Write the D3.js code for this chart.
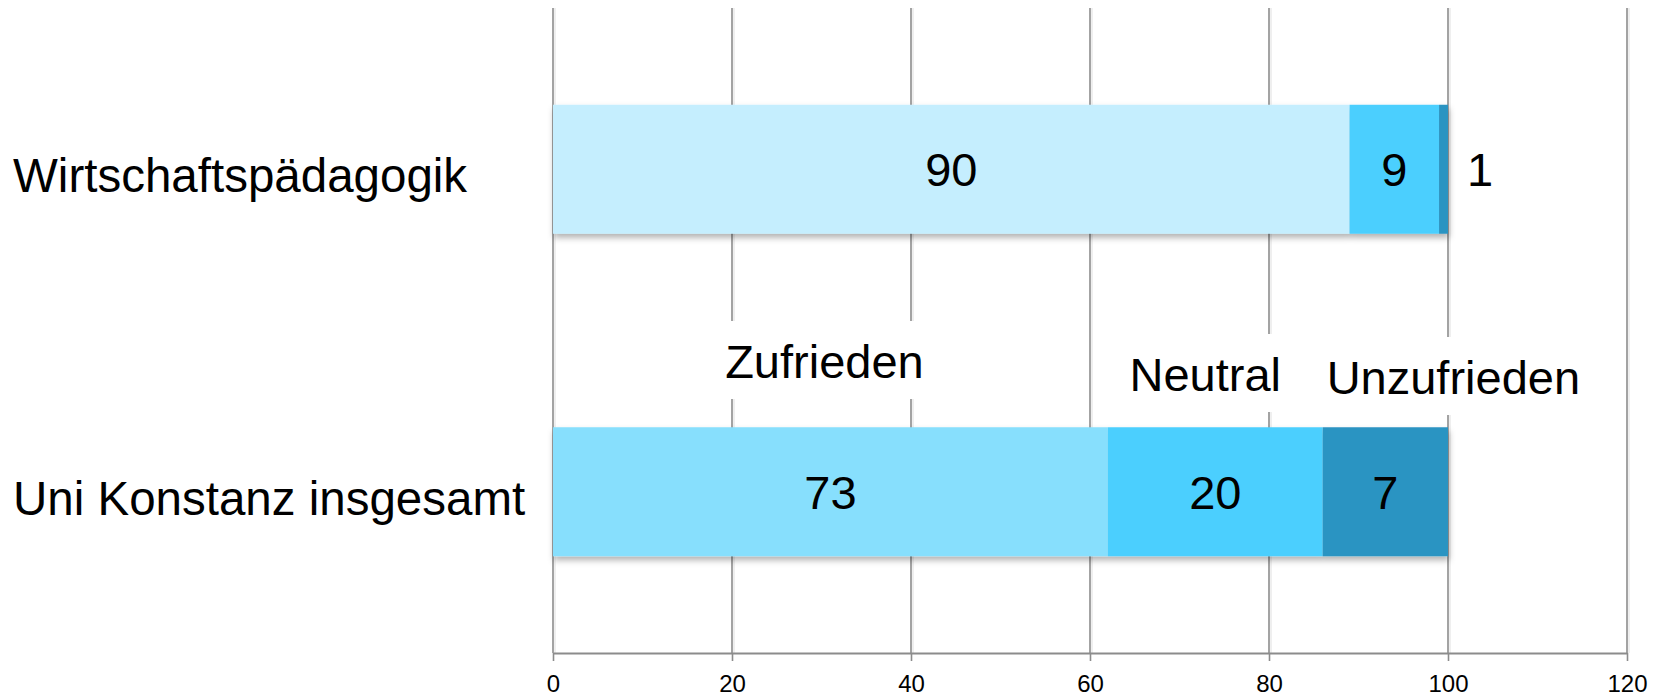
<!DOCTYPE html>
<html>
<head>
<meta charset="utf-8">
<script src="https://cdn.jsdelivr.net/npm/d3@7"></script>
<style>
  body { margin: 0; background: #fff; }
  text { font-family: "Liberation Sans", Arial, sans-serif; fill: #000; }
</style>
</head>
<body>
<script>
// categories and series
var categories = ["Wirtschaftspädagogik", "Uni Konstanz insgesamt"];
var seriesNames = ["Zufrieden", "Neutral", "Unzufrieden"];

// bar lengths as drawn in the picture
var barZufrieden = [89, 62];
var barNeutral = [10, 24];
var barUnzufrieden = [1, 14];

// numbers written on the bars
var labelZufrieden = [90, 73];
var labelNeutral = [9, 20];
var labelUnzufrieden = [1, 7];

var xTicks = [0, 20, 40, 60, 80, 100, 120];

var colorsTop = ["#c5eefe", "#4ccffe", "#2b94c2"];
var colorsBottom = ["#87dffd", "#4ccffe", "#2b94c2"];

var width = 1661,
	height = 696;

var svg = d3.select("body")
	.append("svg")
	.attr("width", width)
	.attr("height", height);

var defs = svg.append("defs");
var shadow = defs.append("filter")
	.attr("id", "shadow")
	.attr("x", "-5%").attr("y", "-20%")
	.attr("width", "110%").attr("height", "150%");
shadow.append("feDropShadow")
	.attr("dx", 1)
	.attr("dy", 4)
	.attr("stdDeviation", 3)
	.attr("flood-color", "#000")
	.attr("flood-opacity", 0.3);

var x = d3.scaleLinear()
	.domain([0, 120])
	.range([553, 1627]);

var y = d3.scaleBand()
	.domain(categories)
	.range([8, 653])
	.paddingInner(0.6)
	.paddingOuter(0.3);

var axisY = 653;

//grid lines
var grid = svg.append("g").attr("class", "grid");
grid.selectAll(".shade")
	.data(xTicks)
	.enter()
	.append("line")
	.attr("x1", function(d){ return x(d) + 2; })
	.attr("x2", function(d){ return x(d) + 2; })
	.attr("y1", 8)
	.attr("y2", axisY)
	.attr("stroke", "#efefef")
	.attr("stroke-width", 2);
grid.selectAll(".gl")
	.data(xTicks)
	.enter()
	.append("line")
	.attr("x1", function(d){ return x(d); })
	.attr("x2", function(d){ return x(d); })
	.attr("y1", 8)
	.attr("y2", axisY)
	.attr("stroke", "#8c8c8c")
	.attr("stroke-width", 1.6);

// series name labels above lower bar, with white boxes
var lowerVals = [barZufrieden[1], barNeutral[1], barUnzufrieden[1]];
var nameDx = [-6, -10, 68];
var nameBase = [378, 391, 394];
var cum = 0;
seriesNames.forEach(function(name, i){
	var cx = x(cum + lowerVals[i] / 2) + nameDx[i];
	cum += lowerVals[i];
	var g = svg.append("g");
	var t = g.append("text")
		.attr("x", cx)
		.attr("y", nameBase[i])
		.attr("text-anchor", "middle")
		.attr("font-size", 47)
		.text(name);
	var bb = t.node().getBBox();
	g.insert("rect", "text")
		.attr("x", bb.x - 8)
		.attr("y", nameBase[i] - 57)
		.attr("width", bb.width + 16)
		.attr("height", 78)
		.attr("fill", "#fff");
});

// bars
var rows = categories.map(function(c, i){
	return {
		cat: c,
		vals: [barZufrieden[i], barNeutral[i], barUnzufrieden[i]],
		labels: [labelZufrieden[i], labelNeutral[i], labelUnzufrieden[i]],
		colors: i == 0 ? colorsTop : colorsBottom
	};
});

rows.forEach(function(row){
	var y0 = y(row.cat);
	var bw = y.bandwidth();
	var g = svg.append("g").attr("filter", "url(#shadow)");
	var start = 0;
	var segs = row.vals.map(function(v, j){
		var s = {x0: start, x1: start + v, color: row.colors[j], label: row.labels[j]};
		start += v;
		return s;
	});
	g.selectAll("rect")
		.data(segs)
		.enter()
		.append("rect")
		.attr("x", function(d){ return x(d.x0); })
		.attr("y", y0)
		.attr("width", function(d){ return x(d.x1) - x(d.x0); })
		.attr("height", bw)
		.attr("fill", function(d){ return d.color; });

	svg.selectAll(null)
		.data(segs)
		.enter()
		.append("text")
		.attr("x", function(d){
			var w = x(d.x1) - x(d.x0);
			if (w < 30) return x(d.x1) + 32;
			return (x(d.x0) + x(d.x1)) / 2;
		})
		.attr("y", y0 + bw / 2 + 17)
		.attr("text-anchor", "middle")
		.attr("font-size", 47)
		.text(function(d){ return d.label; });

	// category label
	svg.append("text")
		.attr("x", 13)
		.attr("y", y0 + bw / 2 + 23)
		.attr("font-size", 47.5)
		.text(row.cat);
});

//x axis
var xAxis = d3.axisBottom(x)
	.tickValues(xTicks)
	.tickSize(8)
	.tickSizeOuter(0)
	.tickPadding(14);

var ax = svg.append("g")
	.attr("transform", "translate(0," + axisY + ")")
	.call(xAxis);
ax.select(".domain").attr("stroke", "#8c8c8c").attr("stroke-width", 1.8);
ax.selectAll(".tick line").attr("stroke", "#8c8c8c").attr("stroke-width", 1.6);
ax.selectAll(".tick text")
	.attr("font-size", 24)
	.attr("font-family", "Liberation Sans, Arial, sans-serif")
	.attr("fill", "#000");
</script>
</body>
</html>
